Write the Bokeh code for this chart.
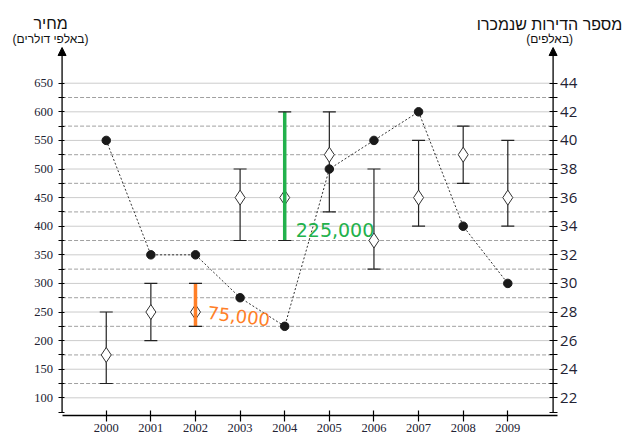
from bokeh.plotting import figure
from bokeh.models import Range1d, LinearAxis, FixedTicker, Arrow, NormalHead
from bokeh.core.properties import value
from bokeh.embed import file_html
from bokeh.resources import INLINE

# ---- data ----
years = [2000, 2001, 2002, 2003, 2004, 2005, 2006, 2007, 2008, 2009]
price_mid = [175, 250, 250, 450, 450, 525, 375, 450, 525, 450]
price_low = [125, 200, 225, 375, 375, 425, 325, 400, 475, 400]
price_high = [250, 300, 300, 500, 600, 600, 500, 550, 575, 550]
sold = [40, 32, 32, 29, 27, 38, 40, 42, 34, 30]

price_ticks = [100, 150, 200, 250, 300, 350, 400, 450, 500, 550, 600, 650]
price_minor = [75, 125, 175, 225, 275, 325, 375, 425, 475, 525, 575, 625]
sold_ticks = [22, 24, 26, 28, 30, 32, 34, 36, 38, 40, 42, 44]
sold_minor = [21, 23, 25, 27, 29, 31, 33, 35, 37, 39, 41, 43]

highlight_years = [2002, 2004]
highlight_colors = ["#FF7F27", "#22B14C"]

left_title = "מחיר"
left_sub = "(באלפי דולרים)"
right_title = "מספר הדירות שנמכרו"
right_sub = "(באלפים)"

# ---- ranges / axis placement ----
x0, x1 = 1997.63, 2011.705
xl, xr = 1999.01, 2010.015          # where the two value axes stand
y0, y1 = 69.1, 794.6
y_arrow = 712.4
k = (price_ticks[-1] - price_ticks[0]) / (sold_ticks[-1] - sold_ticks[0])
c0 = sold_ticks[0] + (y0 - price_ticks[0]) / k
c1 = sold_ticks[0] + (y1 - price_ticks[0]) / k

p = figure(width=628, height=447, x_range=Range1d(x0, x1), y_range=Range1d(y0, y1),
           output_backend="svg", toolbar_location=None,
           min_border_left=0, min_border_right=0, min_border_top=0, min_border_bottom=32)
p.extra_y_ranges = {"count": Range1d(c0, c1)}
p.outline_line_color = None
p.xgrid.visible = False
p.ygrid.visible = False

label_color = "#222233"

# left axis
ya = p.yaxis[0]
ya.fixed_location = xl
ya.ticker = FixedTicker(ticks=price_ticks, minor_ticks=price_minor)
ya.axis_line_color = None
ya.major_tick_in = 2
ya.major_tick_out = 4
ya.minor_tick_in = 2
ya.minor_tick_out = 4
ya.major_tick_line_width = 1.2
ya.minor_tick_line_width = 1.2
ya.major_label_standoff = 5
ya.major_label_text_font = "Liberation Serif"
ya.major_label_text_font_size = "12.5px"
ya.major_label_text_color = label_color

# right axis
ra = LinearAxis(y_range_name="count", ticker=FixedTicker(ticks=sold_ticks, minor_ticks=sold_minor))
ra.fixed_location = xr
ra.axis_line_color = None
ra.major_tick_in = 4
ra.major_tick_out = 4
ra.minor_tick_in = 4
ra.minor_tick_out = 4
ra.major_tick_line_width = 1.2
ra.minor_tick_line_width = 1.2
ra.major_label_standoff = 3
ra.major_label_text_font = "Open Sans"
ra.major_label_text_font_size = "15px"
ra.major_label_text_color = label_color
p.add_layout(ra, "right")

# bottom axis
xa = p.xaxis[0]
xa.ticker = FixedTicker(ticks=years)
xa.bounds = (xl, xr + 0.1)
xa.axis_line_color = "black"
xa.axis_line_width = 1.3
xa.major_tick_in = 5
xa.major_tick_out = 6
xa.major_tick_line_width = 1.2
xa.minor_tick_line_color = None
xa.major_label_standoff = 2
xa.major_label_text_font = "Liberation Serif"
xa.major_label_text_font_size = "12.5px"
xa.major_label_text_color = label_color

# horizontal grid lines between the two axes
n_major = len(price_ticks)
n_minor = len(price_minor) - 1
p.segment(x0=[xl] * n_major, y0=price_ticks, x1=[xr] * n_major, y1=price_ticks,
          line_color="#cccccc", line_width=1)
p.segment(x0=[xl] * n_minor, y0=price_minor[1:], x1=[xr] * n_minor, y1=price_minor[1:],
          line_color="#a0a0a0", line_width=1, line_dash="4 2")

# axis lines with arrows
for xa_pos in (xl, xr):
    p.add_layout(Arrow(end=NormalHead(size=8, fill_color="black", line_color="black"),
                       x_start=xa_pos, y_start=price_minor[0], x_end=xa_pos, y_end=y_arrow,
                       line_color="black", line_width=1.3))

# error bars
p.segment(x0=years, y0=price_low, x1=years, y1=price_high, line_color="#222222", line_width=1.2)

# diamonds
p.scatter(x=years, y=price_mid, marker="diamond", size=15, fill_color="white",
          line_color="#333333", line_width=1)

# highlighted ranges
for yr, col in zip(highlight_years, highlight_colors):
    i = years.index(yr)
    p.segment(x0=[yr], y0=[price_low[i]], x1=[yr], y1=[price_high[i]], line_color=col, line_width=3.5)

# caps
p.scatter(x=years + years, y=price_low + price_high, marker="dash", size=13,
          line_color="#222222", line_width=1.2)

# sold line and points
p.line(x=years, y=sold, y_range_name="count", line_color="#333333", line_dash="2 2", line_width=1)
p.scatter(x=years, y=sold, y_range_name="count", marker="circle", size=8.5,
          fill_color="#1a1a1a", line_color="#1a1a1a")

# handwritten range values
i = years.index(highlight_years[0])
p.text(x=[highlight_years[0]], y=[price_low[i]],
       text=[f"{(price_high[i] - price_low[i]) * 1000:,}"],
       text_color=highlight_colors[0], text_font=value("DejaVu Sans"), text_font_size="18px",
       text_baseline="alphabetic", text_align="left", angle=-0.12, x_offset=12, y_offset=-14)
i = years.index(highlight_years[1])
p.text(x=[highlight_years[1]], y=[price_low[i]],
       text=[f"{(price_high[i] - price_low[i]) * 1000:,}"],
       text_color=highlight_colors[1], text_font=value("DejaVu Sans"), text_font_size="19px",
       text_baseline="alphabetic", text_align="left", x_offset=11, y_offset=-11)

# axis titles
p.text(x=[xl, xr], y=[y_arrow, y_arrow], text=[left_title, right_title], text_align="center",
       text_baseline="alphabetic", text_font=value("Liberation Sans"), text_font_size="16px",
       text_color="#111111", x_offset=[-11.5, -3.5], y_offset=[-24, -23])
p.text(x=[xl, xr], y=[y_arrow, y_arrow], text=[left_sub, right_sub], text_align="center",
       text_baseline="alphabetic", text_font=value("Liberation Sans"), text_font_size="12px",
       text_color="#111111", x_offset=[-11.5, -3.5], y_offset=[-9, -9])

open("out.html", "w").write(file_html(p, INLINE))
